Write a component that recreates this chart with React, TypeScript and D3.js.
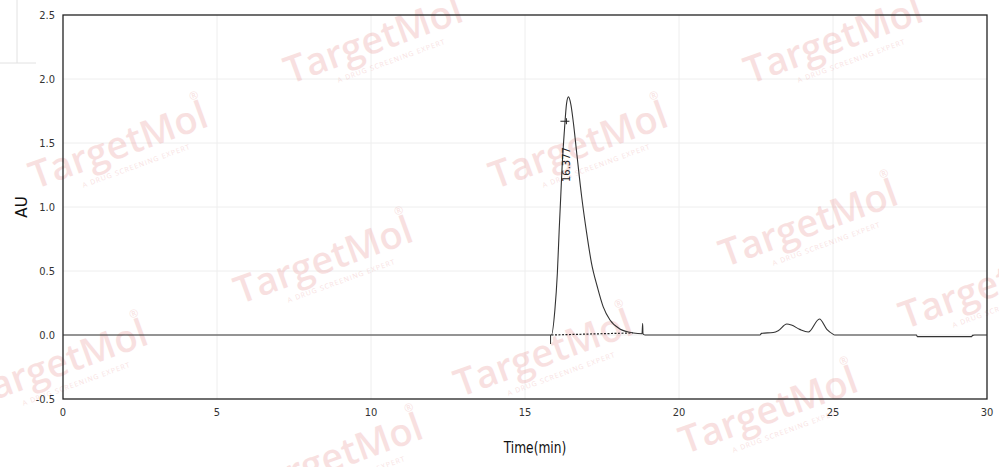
import React from "react";
import * as d3 from "d3";

const timeMin = [0, 15.86, 15.97, 16.05, 16.11, 16.16, 16.21, 16.28, 16.35, 16.41, 16.49, 16.57, 16.68, 16.84, 17.0, 17.16, 17.35, 17.54, 17.76, 18.08, 18.52, 18.8, 18.82, 18.83, 18.85, 18.9, 22.63, 22.68, 23.06, 23.22, 23.5, 23.65, 23.92, 24.2, 24.56, 24.8, 25.01, 25.05, 27.71, 27.74, 29.5, 29.53, 29.6, 30];
const absorbanceAU = [0, 0, 0.195, 0.48, 0.82, 1.08, 1.34, 1.6, 1.81, 1.86, 1.8, 1.66, 1.42, 1.08, 0.8, 0.56, 0.375, 0.22, 0.117, 0.047, 0.016, 0.01, 0.09, 0.01, 0.005, 0, 0, 0.013, 0.02, 0.034, 0.086, 0.078, 0.044, 0.023, 0.125, 0.044, 0.005, 0, 0, -0.013, -0.013, -0.003, 0, 0];

const baselineTimes = [15.86, 16.5, 18.5];
const baselineValues = [0, 0.004, 0.016];

const peakLabels = ["16.377"];
const peakLabelTimes = [16.377];
const peakMarkerValues = [1.67];
const peakLabelValues = [1.195];

const xTicks = [0, 5, 10, 15, 20, 25, 30];
const yTicks = [-0.5, 0, 0.5, 1.0, 1.5, 2.0, 2.5];

const watermarks: [number, number][] = [
  [375, 45], [835, 45], [120, 150], [580, 150], [810, 228], [325, 265],
  [990, 290], [60, 368], [545, 358], [770, 415], [335, 462],
];

export default function App() {
  const W = 999, H = 467;
  const m = { l: 63, r: 987, t: 15, b: 399 };
  const x = d3.scaleLinear().domain([0, 30]).range([m.l, m.r]);
  const y = d3.scaleLinear().domain([-0.5, 2.5]).range([m.b, m.t]);
  const line = d3.line<number>().x((_, i) => x(timeMin[i])).y((d) => y(d)).curve(d3.curveMonotoneX);
  const bline = d3.line<number>().x((_, i) => x(baselineTimes[i])).y((d) => y(d));
  const font = "'DejaVu Sans Condensed', 'Liberation Sans Narrow', sans-serif";
  return (
    <svg width={W} height={H} style={{ position: "absolute", left: 0, top: 0, background: "#fff" }}>
      {/* top-left artifact */}
      <line x1={17} y1={0} x2={17} y2={63} stroke="#e2e2e2" strokeWidth={1} />
      <line x1={0} y1={63} x2={36} y2={63} stroke="#e2e2e2" strokeWidth={1} />
      {/* grid */}
      {xTicks.slice(1, -1).map((t) => (
        <line key={"gx" + t} x1={x(t)} x2={x(t)} y1={m.t} y2={m.b} stroke="#eeeeee" strokeWidth={1} />
      ))}
      {yTicks.slice(1, -1).map((t) => (
        <line key={"gy" + t} x1={m.l} x2={m.r} y1={y(t)} y2={y(t)} stroke="#eeeeee" strokeWidth={1} />
      ))}
      {/* watermarks */}
      {watermarks.map(([cx, cy], i) => (
        <g key={"wm" + i} transform={`translate(${cx},${cy}) rotate(-20)`} opacity={0.2}>
          <text x={0} y={8} textAnchor="middle" fontFamily="'Open Sans', sans-serif" fontWeight={600} fontSize={38} fill="#e06a6a">TargetMol</text>
          <text x={10} y={23} textAnchor="middle" fontFamily="'Open Sans', sans-serif" fontSize={7} letterSpacing={1} fill="#e06a6a">A DRUG SCREENING EXPERT</text>
          <text x={88} y={-22} textAnchor="middle" fontFamily="'Open Sans', sans-serif" fontSize={11} fill="#e06a6a">®</text>
        </g>
      ))}
      {/* frame */}
      <rect x={m.l} y={m.t} width={m.r - m.l} height={m.b - m.t} fill="none" stroke="#222" strokeWidth={1.3} />
      {/* baseline dashed */}
      <path d={bline(baselineValues) || ""} fill="none" stroke="#222" strokeWidth={1.2} strokeDasharray="2,1.5" />
      {/* start tick */}
      <line x1={x(15.83)} x2={x(15.83)} y1={y(0)} y2={y(0) + 9} stroke="#333" strokeWidth={1} />
      {/* trace */}
      <path d={line(absorbanceAU) || ""} fill="none" stroke="#333" strokeWidth={1.1} />
      {/* peak marker and label */}
      {peakLabels.map((lab, i) => (
        <g key={lab}>
          <line x1={x(peakLabelTimes[i]) - 7} x2={x(peakLabelTimes[i]) + 2} y1={y(peakMarkerValues[i])} y2={y(peakMarkerValues[i])} stroke="#222" strokeWidth={1} />
          <line x1={x(peakLabelTimes[i]) - 1} x2={x(peakLabelTimes[i]) - 1} y1={y(peakMarkerValues[i]) - 3} y2={y(peakMarkerValues[i]) + 3} stroke="#222" strokeWidth={1} />
          <text transform={`translate(${x(peakLabelTimes[i]) + 3},${y(peakLabelValues[i])}) rotate(-90)`} textAnchor="start" fontFamily="'DejaVu Sans', sans-serif" fontSize={10} fill="#222">{lab}</text>
        </g>
      ))}
      {/* axis labels */}
      {xTicks.map((t) => (
        <text key={"xt" + t} x={x(t)} y={416} textAnchor="middle" fontFamily={font} fontSize={11} fill="#333">{t}</text>
      ))}
      {yTicks.map((t) => (
        <text key={"yt" + t} x={55} y={y(t) + 4} textAnchor="end" fontFamily={font} fontSize={11} fill="#333">{t.toFixed(1)}</text>
      ))}
      <text transform={`translate(27,207) rotate(-90)`} textAnchor="middle" fontFamily="'DejaVu Sans', sans-serif" fontSize={15} fill="#111">AU</text>
      <text transform="translate(535,453) scale(0.85,1)" textAnchor="middle" fontFamily={font} fontSize={16} fill="#111">Time(min)</text>
    </svg>
  );
}
